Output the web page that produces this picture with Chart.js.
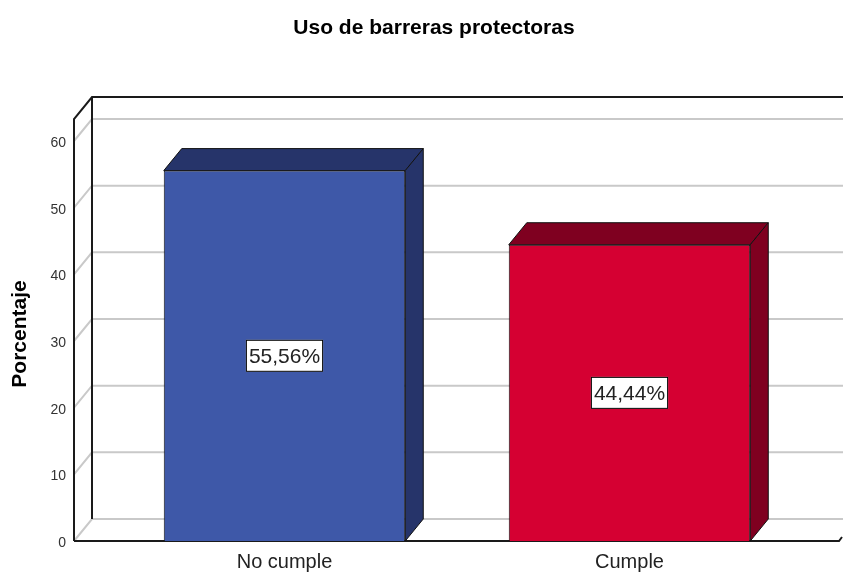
<!DOCTYPE html>
<html>
<head>
<meta charset="utf-8">
<script src="https://cdn.jsdelivr.net/npm/chart.js@4/dist/chart.umd.min.js"></script>
<style>
  html, body { margin: 0; padding: 0; background: #fff; }
  #wrap { width: 843px; height: 573px; }
</style>
</head>
<body>
<div id="wrap"><canvas id="chart" width="843" height="573"></canvas></div>
<script>
// data
const categories = ['No cumple', 'Cumple'];
const percentages = [55.56, 44.44];
const valueLabels = ['55,56%', '44,44%'];
const yTicks = [0, 10, 20, 30, 40, 50, 60];
const yMax = 63.3;

const frontColors = ['#3e58a8', '#d50032'];
const darkColors = ['#26346a', '#7f0020'];

// 3D depth offset and front wall x
const DX = 18, DY = -22;
const FRONT_X = 74;
const FONT = '"Liberation Sans", Arial, sans-serif';

const walls = {
    id: 'walls',
    beforeDatasetsDraw(chart) {
        const ctx = chart.ctx;
        const y = chart.scales.y;
        const right = chart.width;
        const y0 = y.getPixelForValue(0);
        const yTop = y.getPixelForValue(yMax);
        ctx.save();

        // gridlines on the back wall + diagonals on the side wall
        ctx.strokeStyle = '#c9c9c9';
        ctx.lineWidth = 2;
        yTicks.forEach(v => {
            const py = y.getPixelForValue(v);
            ctx.beginPath();
            ctx.moveTo(FRONT_X, py);
            ctx.lineTo(FRONT_X + DX, py + DY);
            ctx.lineTo(right, py + DY);
            ctx.stroke();
        });

        // frame lines
        ctx.strokeStyle = '#1a1a1a';
        ctx.lineWidth = 2;
        ctx.beginPath();
        ctx.moveTo(FRONT_X, y0);
        ctx.lineTo(FRONT_X, yTop);
        ctx.lineTo(FRONT_X + DX, yTop + DY);
        ctx.lineTo(right, yTop + DY);
        ctx.moveTo(FRONT_X + DX, yTop + DY);
        ctx.lineTo(FRONT_X + DX, y0 + DY);
        ctx.moveTo(FRONT_X, y0);
        ctx.lineTo(right - 4, y0);
        ctx.lineTo(right - 1, y0 - 4);
        ctx.stroke();

        // tick labels
        ctx.fillStyle = '#333';
        ctx.font = '14px ' + FONT;
        ctx.textAlign = 'right';
        ctx.textBaseline = 'middle';
        yTicks.forEach(v => {
            ctx.fillText(String(v), FRONT_X - 8, y.getPixelForValue(v) + 2);
        });

        // axis title
        ctx.save();
        ctx.translate(20, 334);
        ctx.rotate(-Math.PI / 2);
        ctx.textAlign = 'center';
        ctx.font = 'bold 21px ' + FONT;
        ctx.fillStyle = '#000';
        ctx.fillText('Porcentaje', 0, 0);
        ctx.restore();

        // chart title
        ctx.textAlign = 'center';
        ctx.font = 'bold 21px ' + FONT;
        ctx.fillStyle = '#000';
        ctx.fillText('Uso de barreras protectoras', 434, 28);

        // category labels
        const x = chart.scales.x;
        ctx.font = '20px ' + FONT;
        ctx.fillStyle = '#222';
        categories.forEach((c, i) => {
            ctx.fillText(c, x.getPixelForValue(i), y0 + 21);
        });
        ctx.restore();
    },
    afterDatasetsDraw(chart) {
        const ctx = chart.ctx;
        const meta = chart.getDatasetMeta(0);
        ctx.save();
        meta.data.forEach((bar, i) => {
            const x0 = bar.x - bar.width / 2;
            const x1 = bar.x + bar.width / 2;
            const top = bar.y;
            const base = bar.base;
            ctx.fillStyle = darkColors[i];
            ctx.strokeStyle = '#111';
            ctx.lineWidth = 1;
            // top face
            ctx.beginPath();
            ctx.moveTo(x0, top);
            ctx.lineTo(x0 + DX, top + DY);
            ctx.lineTo(x1 + DX, top + DY);
            ctx.lineTo(x1, top);
            ctx.closePath();
            ctx.fill();
            ctx.stroke();
            // side face
            ctx.beginPath();
            ctx.moveTo(x1, top);
            ctx.lineTo(x1 + DX, top + DY);
            ctx.lineTo(x1 + DX, base + DY);
            ctx.lineTo(x1, base);
            ctx.closePath();
            ctx.fill();
            ctx.stroke();

            // value label box
            ctx.font = '21px ' + FONT;
            const txt = valueLabels[i];
            const w = ctx.measureText(txt).width + 6;
            const h = 32;
            const cy = (top + base) / 2;
            ctx.fillStyle = '#fff';
            ctx.fillRect(bar.x - w / 2, cy - h / 2, w, h);
            ctx.strokeStyle = '#000';
            ctx.strokeRect(bar.x - w / 2 + 0.5, cy - h / 2 + 0.5, w - 1, h - 1);
            ctx.fillStyle = '#222';
            ctx.textAlign = 'center';
            ctx.textBaseline = 'middle';
            ctx.fillText(txt, bar.x, cy + 1);
        });
        ctx.restore();
    }
};

new Chart(document.getElementById('chart'), {
    type: 'bar',
    data: {
        labels: categories,
        datasets: [{
            data: percentages,
            backgroundColor: frontColors,
            borderColor: '#111',
            borderWidth: 1,
            categoryPercentage: 1,
            barPercentage: 0.7
        }]
    },
    options: {
        responsive: false,
        animation: false,
        layout: { padding: { left: 112, right: 41, top: 119, bottom: 32 } },
        plugins: { legend: { display: false }, tooltip: { enabled: false } },
        scales: {
            x: { display: false },
            y: { display: false, min: 0, max: yMax }
        }
    },
    plugins: [walls]
});
</script>
</body>
</html>
